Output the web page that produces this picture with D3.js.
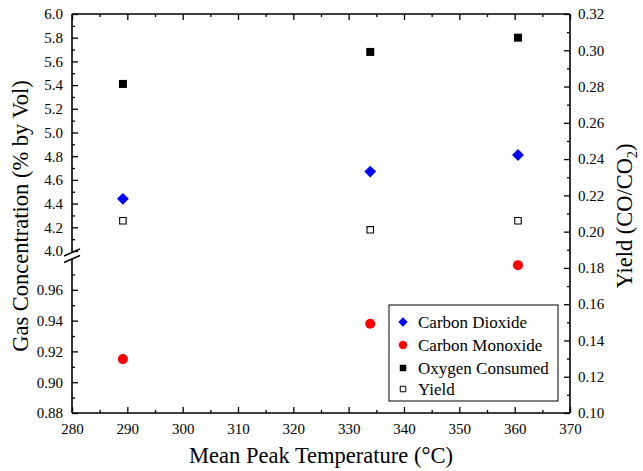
<!DOCTYPE html>
<html>
<head>
<meta charset="utf-8">
<script src="https://cdn.jsdelivr.net/npm/d3@7"></script>
<style>
  html, body { margin: 0; padding: 0; background: #fff; }
  svg { display: block; }
  svg text { font-family: "Liberation Serif", "DejaVu Serif", "Noto Serif", Tinos, serif !important; fill: #000; }
</style>
</head>
<body>
<svg id="chart" width="643" height="471"></svg>
<script>
// Mean peak temperature (°C) of each run
const temps = [289.2, 333.9, 360.6];
// Gas concentrations (% by vol)
const carbonDioxide = [4.44, 4.67, 4.81];
const carbonMonoxide = [0.915, 0.938, 0.976];
const oxygenConsumed = [5.41, 5.68, 5.80];
// Yield CO/CO2 (right axis)
const yieldRatio = [0.206, 0.201, 0.206];

const xTicks = [280, 290, 300, 310, 320, 330, 340, 350, 360, 370];
const upperTicks = [4.0, 4.2, 4.4, 4.6, 4.8, 5.0, 5.2, 5.4, 5.6, 5.8, 6.0];
const lowerTicks = [0.88, 0.90, 0.92, 0.94, 0.96];
const rightTicks = [0.10, 0.12, 0.14, 0.16, 0.18, 0.20, 0.22, 0.24, 0.26, 0.28, 0.30, 0.32];

const legendItems = ["Carbon Dioxide", "Carbon Monoxide", "Oxygen Consumed", "Yield"];

const L = 72, R = 570, T = 14, B = 413;
const svg = d3.select("#chart");

const x = d3.scaleLinear().domain([280, 370]).range([L, R]);
const yUp = d3.scaleLinear().domain([4.0, 6.0]).range([251, T]);
const yLow = d3.scaleLinear().domain([0.88, 0.98]).range([B, 259]);
const yR = d3.scaleLinear().domain([0.10, 0.32]).range([B, T]);

const axisW = 1.6;
const fmt1 = d3.format(".1f"), fmt2 = d3.format(".2f");

function styleAxis(g) {
  g.attr("font-family", null).attr("font-size", null);
  g.select(".domain").remove();
  g.selectAll(".tick line").attr("stroke", "#000").attr("stroke-width", 1.3);
  g.selectAll(".tick text").style("font-size", "15px");
}
function minors(lo, hi, step) {
  const out = [];
  for (let v = lo; v <= hi + step / 10; v += step) out.push(+v.toFixed(4));
  return out;
}

// bottom axis
svg.append("g").attr("transform", `translate(0,${B})`)
  .call(d3.axisBottom(x).tickValues(minors(285, 365, 10)).tickSize(-3).tickFormat(""))
  .call(styleAxis);
svg.append("g").attr("transform", `translate(0,${B})`)
  .call(d3.axisBottom(x).tickValues(xTicks).tickSize(-6).tickPadding(10).tickFormat(d3.format("d")))
  .call(styleAxis);
// top axis (ticks only)
svg.append("g").attr("transform", `translate(0,${T})`)
  .call(d3.axisTop(x).tickValues(minors(285, 365, 10)).tickSize(-3).tickFormat(""))
  .call(styleAxis);
svg.append("g").attr("transform", `translate(0,${T})`)
  .call(d3.axisTop(x).tickValues(xTicks).tickSize(-6).tickFormat(""))
  .call(styleAxis);

// left axis: upper segment
svg.append("g").attr("transform", `translate(${L},0)`)
  .call(d3.axisLeft(yUp).tickValues(minors(4.1, 5.9, 0.2)).tickSize(-3).tickFormat(""))
  .call(styleAxis);
svg.append("g").attr("transform", `translate(${L},0)`)
  .call(d3.axisLeft(yUp).tickValues(upperTicks).tickSize(-6).tickPadding(9).tickFormat(fmt1))
  .call(styleAxis);
// left axis: lower segment
svg.append("g").attr("transform", `translate(${L},0)`)
  .call(d3.axisLeft(yLow).tickValues(minors(0.89, 0.97, 0.02)).tickSize(-3).tickFormat(""))
  .call(styleAxis);
svg.append("g").attr("transform", `translate(${L},0)`)
  .call(d3.axisLeft(yLow).tickValues(lowerTicks).tickSize(-6).tickPadding(9).tickFormat(fmt2))
  .call(styleAxis);

// right axis
svg.append("g").attr("transform", `translate(${R},0)`)
  .call(d3.axisRight(yR).tickValues(minors(0.11, 0.31, 0.02)).tickSize(-3).tickFormat(""))
  .call(styleAxis);
svg.append("g").attr("transform", `translate(${R},0)`)
  .call(d3.axisRight(yR).tickValues(rightTicks).tickSize(-6).tickPadding(8).tickFormat(fmt2))
  .call(styleAxis);

// frame lines
const frame = svg.append("g").attr("stroke", "#000").attr("stroke-width", axisW).attr("fill", "none");
frame.append("line").attr("x1", L).attr("x2", R).attr("y1", B).attr("y2", B);
frame.append("line").attr("x1", L).attr("x2", R).attr("y1", T).attr("y2", T);
frame.append("line").attr("x1", R).attr("x2", R).attr("y1", T).attr("y2", B);
frame.append("line").attr("x1", L).attr("x2", L).attr("y1", T).attr("y2", yUp(4.0) + 1.5);
frame.append("line").attr("x1", L).attr("x2", L).attr("y1", yLow.range()[1] - 0.5).attr("y2", B);

// axis break marks
const brk = svg.append("g").attr("stroke", "#000").attr("stroke-width", 1.4);
brk.append("line").attr("x1", L - 8).attr("y1", yUp(4.0) + 5).attr("x2", L + 8).attr("y2", yUp(4.0) - 2);
brk.append("line").attr("x1", L - 8).attr("y1", yLow.range()[1] + 3.5).attr("x2", L + 8).attr("y2", yLow.range()[1] - 3.5);

// markers
const sqFilled = d3.symbol().type(d3.symbolSquare).size(64);
const sqOpen = d3.symbol().type(d3.symbolSquare).size(42);
const diamond = d3.symbol().type(d3.symbolSquare).size(70);

const pts = svg.append("g");
pts.selectAll(".o2").data(temps).join("path")
  .attr("d", sqFilled)
  .attr("transform", (d, i) => `translate(${x(d)},${yUp(oxygenConsumed[i])})`)
  .attr("fill", "#000");
pts.selectAll(".co2").data(temps).join("path")
  .attr("d", diamond)
  .attr("transform", (d, i) => `translate(${x(d)},${yUp(carbonDioxide[i])}) rotate(45)`)
  .attr("fill", "#0000ff");
pts.selectAll(".co").data(temps).join("circle")
  .attr("cx", d => x(d)).attr("cy", (d, i) => yLow(carbonMonoxide[i])).attr("r", 5)
  .attr("fill", "#ff0000");
pts.selectAll(".yld").data(temps).join("path")
  .attr("d", sqOpen)
  .attr("transform", (d, i) => `translate(${x(d)},${yR(yieldRatio[i])})`)
  .attr("fill", "#fff").attr("stroke", "#000").attr("stroke-width", 1.1);

// legend
const lg = svg.append("g").attr("transform", "translate(389,305)");
lg.append("rect").attr("width", 169).attr("height", 96)
  .attr("fill", "#fff").attr("stroke", "#000").attr("stroke-width", 1);
const rowY = [17, 40, 63, 84];
const legMarks = [
  g => g.append("path").attr("d", d3.symbol().type(d3.symbolSquare).size(44)()).attr("transform", "rotate(45)").attr("fill", "#0000ff"),
  g => g.append("circle").attr("r", 4.2).attr("fill", "#ff0000"),
  g => g.append("path").attr("d", d3.symbol().type(d3.symbolSquare).size(42)()).attr("fill", "#000"),
  g => g.append("path").attr("d", d3.symbol().type(d3.symbolSquare).size(30)()).attr("fill", "#fff").attr("stroke", "#000").attr("stroke-width", 1)
];
legendItems.forEach((name, i) => {
  const row = lg.append("g").attr("transform", `translate(0,${rowY[i]})`);
  const m = row.append("g").attr("transform", "translate(14,0)");
  legMarks[i](m);
  row.append("text").attr("x", 29).attr("y", 5.5).style("font-size", "17px").text(name);
});

// axis titles
svg.append("text")
  .attr("x", (L + R) / 2).attr("y", 463)
  .attr("text-anchor", "middle").style("font-size", "22.5px")
  .text("Mean Peak Temperature (°C)");

svg.append("text")
  .attr("transform", "translate(28,216) rotate(-90)")
  .attr("text-anchor", "middle").style("font-size", "22.5px")
  .text("Gas Concentration (% by Vol)");

const rt = svg.append("text")
  .attr("transform", "translate(632,216) rotate(-90)")
  .attr("text-anchor", "middle").style("font-size", "22.5px");
rt.append("tspan").text("Yield (CO/CO");
rt.append("tspan").attr("dy", 5).style("font-size", "14px").text("2");
rt.append("tspan").attr("dy", -5).text(")");
</script>
</body>
</html>
